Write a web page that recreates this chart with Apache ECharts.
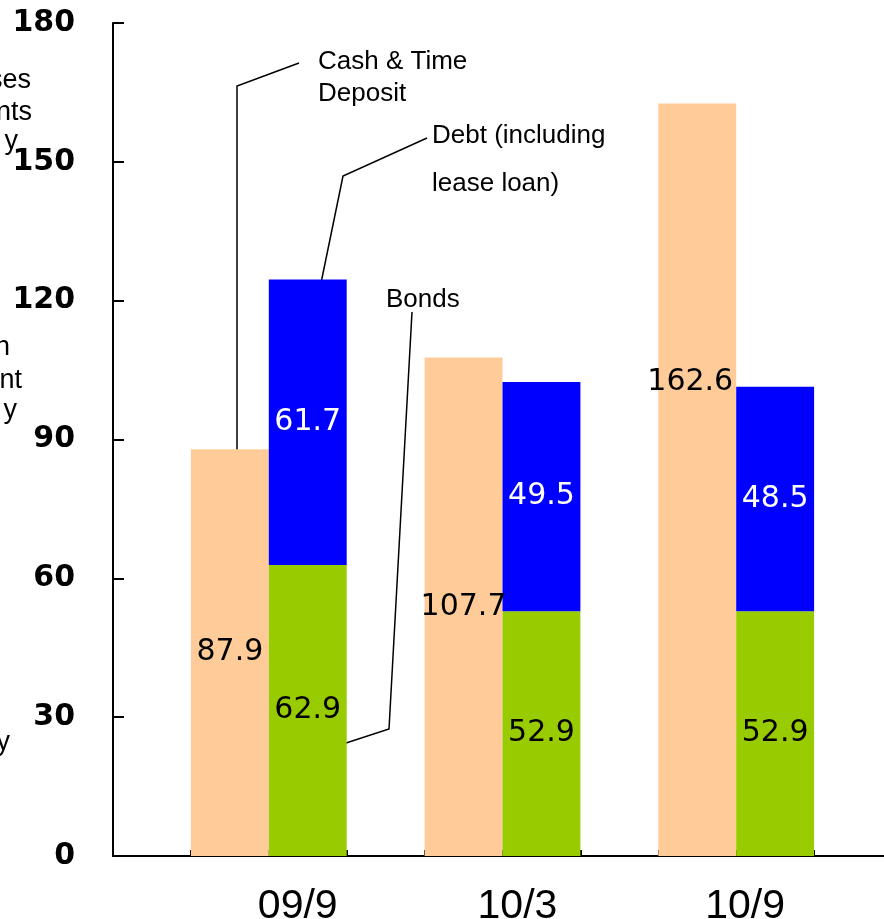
<!DOCTYPE html>
<html>
<head>
<meta charset="utf-8">
<script src="https://cdn.jsdelivr.net/npm/echarts@6/dist/echarts.min.js"></script>
<style>
html,body{margin:0;padding:0;background:#fff;}
#chart{width:884px;height:919px;}
</style>
</head>
<body>
<div id="chart"></div>
<script>
// ---- data ----
var categories = ['09/9', '10/3', '10/9'];
var cashTimeDeposit = [87.9, 107.7, 162.6];
var bonds = [62.9, 52.9, 52.9];
var debt = [61.7, 49.5, 48.5];
var yTicks = [0, 30, 60, 90, 120, 150, 180];

// ---- slots: each period uses 3 slots (gap, cash, bonds+debt), plus a trailing gap ----
var SLOTS = categories.length * 3 + 1;
var labelShift = [10, 24, 30]; // px shift of period labels to the left

function slotArray(values, offset) {
  var arr = [];
  for (var i = 0; i < SLOTS; i++) arr.push(null);
  values.forEach(function (v, k) { arr[k * 3 + offset] = v; });
  return arr;
}

var xData = [];
for (var i = 0; i < SLOTS; i++) {
  var k = (i - 2) / 3;
  if (i % 3 === 2 && k < categories.length) {
    xData.push({ value: categories[k], textStyle: { padding: [0, labelShift[k] * 2, 0, 0] } });
  } else {
    xData.push({ value: '' });
  }
}

var cashData = slotArray(cashTimeDeposit, 1).map(function (v, i) {
  if (v === null) return null;
  if (i === (categories.length - 1) * 3 + 1) {
    return { value: v, label: { position: ['41%', '37%'], align: 'center', verticalAlign: 'middle' } };
  }
  return v;
});

var chart = echarts.init(document.getElementById('chart'), null, { renderer: 'canvas' });

var valFont = 'DejaVu Sans, Verdana, sans-serif';
var annFont = { fontFamily: 'Liberation Sans, Arial, sans-serif', fontSize: 26, fill: '#000' };

function annText(x, y, t, align, size) {
  var st = Object.assign({ text: t, textAlign: align || 'left', textVerticalAlign: 'middle' }, annFont);
  if (size) st.fontSize = size;
  return { type: 'text', x: x, y: y, style: st };
}
function annLine(points) {
  return { type: 'polyline', shape: { points: points }, style: { stroke: '#000', lineWidth: 1.5, fill: null } };
}

var option = {
  backgroundColor: '#fff',
  animation: false,
  grid: { left: 113, width: 779, top: 23, bottom: 63, containLabel: false, outerBoundsMode: 'none' },
  xAxis: {
    type: 'category',
    data: xData,
    boundaryGap: true,
    axisLine: { show: true, lineStyle: { color: '#000', width: 2 } },
    axisTick: { show: true, inside: true, length: 6, interval: 0, lineStyle: { color: '#000', width: 2 } },
    axisLabel: { interval: 0, margin: 30, color: '#000', fontFamily: 'Liberation Sans, Arial, sans-serif', fontSize: 41 },
    splitLine: { show: false }
  },
  yAxis: {
    type: 'value',
    min: yTicks[0],
    max: yTicks[yTicks.length - 1],
    interval: yTicks[1] - yTicks[0],
    axisLine: { show: true, lineStyle: { color: '#000', width: 2 } },
    axisTick: { show: true, inside: true, length: 11, lineStyle: { color: '#000', width: 2 } },
    axisLabel: { margin: 38, color: '#000', fontFamily: valFont, fontWeight: 'bold', fontSize: 30 },
    splitLine: { show: false }
  },
  series: [
    {
      name: 'Cash & Time Deposit', type: 'bar', stack: 'cash', barWidth: '100%', barGap: '-100%',
      itemStyle: { color: '#FFCC99' },
      label: { show: true, position: 'inside', color: '#000', fontFamily: valFont, fontSize: 30 },
      data: cashData, z: 2
    },
    {
      name: 'Bonds', type: 'bar', stack: 'funds', barWidth: '100%', barGap: '-100%',
      itemStyle: { color: '#99CC00' },
      label: { show: true, position: 'inside', color: '#000', fontFamily: valFont, fontSize: 30 },
      data: slotArray(bonds, 2), z: 2
    },
    {
      name: 'Debt (including lease loan)', type: 'bar', stack: 'funds', barWidth: '100%', barGap: '-100%',
      itemStyle: { color: '#0000FF' },
      label: { show: true, position: 'inside', color: '#fff', fontFamily: valFont, fontSize: 30 },
      data: slotArray(debt, 2), z: 2
    }
  ],
  graphic: [
    // clipped text fragments at the left edge
    annText(31, 81, 'ses', 'right', 27),
    annText(32, 113, 'nts', 'right', 27),
    annText(18, 142, 'y', 'right', 27),
    annText(10, 348, 'n', 'right', 27),
    annText(22, 381, 'nt', 'right', 27),
    annText(17, 411, 'y', 'right', 27),
    annText(10, 743, 'y', 'right', 27),
    // annotations
    annText(318, 62, 'Cash & Time'),
    annText(318, 94, 'Deposit'),
    annLine([[237, 450], [237, 86], [299, 63]]),
    annText(432, 136, 'Debt (including'),
    annText(432, 184, 'lease loan)'),
    annLine([[321, 283], [343, 176], [427, 138]]),
    annText(386, 300, 'Bonds'),
    annLine([[343, 744], [389, 729], [412, 312]])
  ]
};

chart.setOption(option);
</script>
</body>
</html>
